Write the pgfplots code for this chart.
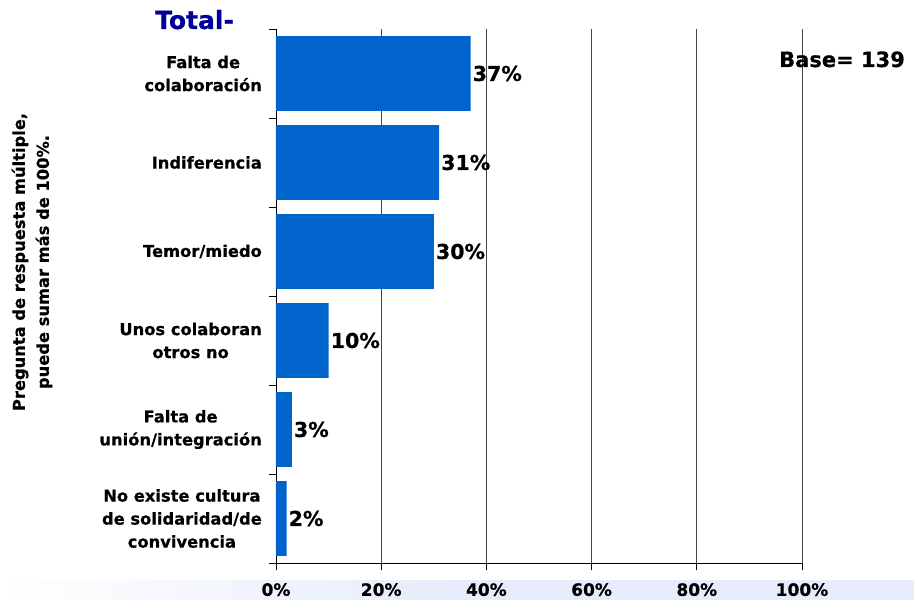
\documentclass[border=0pt]{standalone}
\usepackage{pgfplots}
\pgfplotsset{compat=1.18}
\usepackage{fontspec}
\setmainfont{DejaVu Sans}[BoldFeatures={FakeBold=0.6}]
\definecolor{barblue}{RGB}{0,100,204}
\definecolor{titleblue}{RGB}{0,0,153}
\definecolor{gridgray}{RGB}{70,70,70}
\definecolor{bandblue}{RGB}{230,236,251}
\begin{document}
\begin{tikzpicture}
% page frame (axis box SW corner sits at (0,0))
\path (-276pt,-37pt) rectangle (638pt,563pt);
\shade[left color=white, right color=bandblue, middle color=bandblue] (-276pt,-37pt) rectangle (638pt,-18pt);
\begin{axis}[
  name=ax,
  scale only axis,
  width=526pt, height=534pt,
  xbar, bar width=0.84,
  xmin=0, xmax=100,
  ymin=-0.5, ymax=5.5,
  axis x line*=bottom, axis y line*=left,
  axis line style={black, line width=0.8pt},
  /pgf/number format/assume math mode=true,
  xtick={0,20,40,60,80,100},
  xticklabels={0\%,20\%,40\%,60\%,80\%,100\%},
  minor xtick={0,20,40,60,80,100},
  xmajorgrids,
  major grid style={gridgray, line width=0.8pt},
  ytick={0,1,2,3,4,5},
  yticklabels={{No existe cultura\\de solidaridad/de\\convivencia},{Falta de\\unión/integración},{Unos colaboran\\otros no},{Temor/miedo},{Indiferencia},{Falta de\\colaboración}},
  minor ytick={-0.5,0.5,1.5,2.5,3.5,4.5,5.5},
  tick align=outside,
  major tick length=0pt,
  minor tick length=7pt,
  minor tick style={black, line width=0.8pt},
  xticklabel style={font=\bfseries\fontsize{17}{20}\selectfont, inner sep=0pt, yshift=-20pt},
  yticklabel style={font=\bfseries\fontsize{16.3}{23}\selectfont, align=center, inner sep=0pt, xshift=-14pt},
  nodes near coords={\pgfmathprintnumber{\pgfplotspointmeta}\%},
  every node near coord/.append style={font=\bfseries\fontsize{20.5}{24}\selectfont, inner sep=2pt, black},
  clip=false,
]
\addplot[fill=barblue, draw=none] coordinates {
  (2,0) (3,1) (10,2) (30,3) (31,4) (37,5)
};
\end{axis}
\node[anchor=base west, font=\bfseries\fontsize{25}{28}\selectfont, text=titleblue, inner sep=0pt] at ([shift={(-121pt,0pt)}]ax.north west) {Total-};
\node[anchor=base west, font=\bfseries\fontsize{21}{24}\selectfont, inner sep=0pt] at ([shift={(503pt,-38pt)}]ax.north west) {Base= 139};
\node[rotate=90, align=center, font=\bfseries\fontsize{16.3}{24}\selectfont, inner sep=0pt] at ([shift={(-244pt,-233pt)}]ax.north west) {Pregunta de respuesta múltiple,\\puede sumar más de 100\%.};
\end{tikzpicture}
\end{document}
